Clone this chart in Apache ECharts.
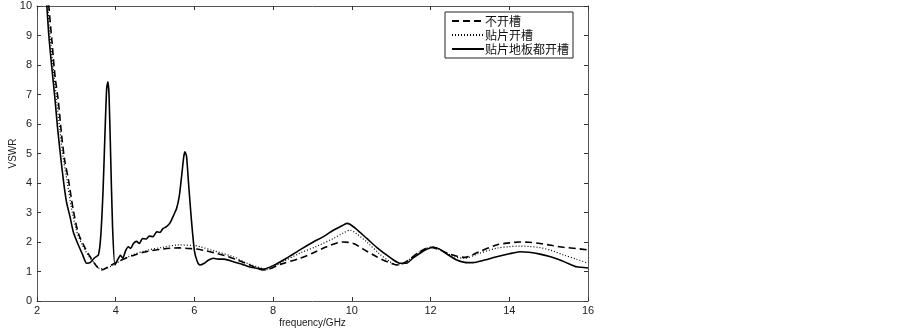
<!DOCTYPE html>
<html>
<head>
<meta charset="utf-8">
<script src="https://cdn.jsdelivr.net/npm/echarts@6/dist/echarts.min.js"></script>
<style>html,body{margin:0;padding:0;background:#fff}#c{width:903px;height:330px}</style>
</head>
<body>
<div id="c"></div>
<script>
var seriesNames = ['不开槽', '贴片开槽', '贴片地板都开槽'];
var xTicks = [2, 4, 6, 8, 10, 12, 14, 16];
var yTicks = [0, 1, 2, 3, 4, 5, 6, 7, 8, 9, 10];

var freqDash = [2.25,2.3,2.38,2.46,2.54,2.62,2.7,2.8,2.92,3.05,3.2,3.35,3.5,3.64,3.8,4.0,4.25,4.5,4.8,5.12,5.4,5.63,5.85,6.06,6.3,6.6,6.87,7.1,7.41,7.6,7.75,8.2,8.68,9.0,9.36,9.78,10.04,10.3,10.63,10.9,11.18,11.4,11.7,11.99,12.2,12.5,12.87,13.2,13.68,14.0,14.27,14.5,14.78,15.1,15.38,15.7,16.0];
var vswrDash = [10.8,10.0,8.8,7.6,6.8,5.7,4.8,4.1,3.1,2.3,1.85,1.5,1.2,1.05,1.15,1.3,1.45,1.57,1.68,1.75,1.79,1.8,1.78,1.76,1.7,1.6,1.5,1.38,1.22,1.1,1.05,1.25,1.45,1.62,1.84,2.0,1.95,1.75,1.5,1.33,1.22,1.35,1.65,1.82,1.75,1.58,1.48,1.65,1.9,1.97,2.0,1.99,1.95,1.88,1.82,1.78,1.73];

var freqDot = [2.22,2.27,2.33,2.42,2.5,2.58,2.66,2.76,2.87,3.0,3.15,3.3,3.45,3.6,3.75,3.9,4.1,4.4,4.8,5.2,5.6,6.0,6.14,6.5,6.99,7.3,7.66,7.83,8.2,8.68,9.1,9.53,9.8,9.95,10.1,10.38,10.7,10.95,11.14,11.4,11.7,12.07,12.3,12.6,12.87,13.2,13.68,14.0,14.27,14.5,14.78,15.1,15.38,15.7,16.0];
var vswrDot = [10.8,10.0,9.0,7.8,6.8,5.8,4.9,4.1,3.2,2.4,1.9,1.55,1.3,1.1,1.1,1.2,1.35,1.55,1.72,1.82,1.9,1.88,1.84,1.7,1.5,1.3,1.13,1.06,1.3,1.62,1.85,2.12,2.32,2.4,2.3,2.0,1.6,1.35,1.22,1.35,1.65,1.84,1.7,1.5,1.45,1.6,1.79,1.84,1.86,1.85,1.81,1.7,1.56,1.42,1.28];

var freqSolid = [2.2,2.25,2.3,2.37,2.46,2.52,2.6,2.67,2.75,2.84,2.92,3.05,3.15,3.26,3.35,3.45,3.56,3.62,3.68,3.73,3.77,3.8,3.83,3.87,3.92,3.98,4.05,4.12,4.18,4.25,4.32,4.38,4.45,4.53,4.6,4.68,4.78,4.85,4.95,5.04,5.12,5.2,5.29,5.38,5.47,5.55,5.62,5.68,5.73,5.76,5.8,5.85,5.92,6.0,6.07,6.14,6.25,6.35,6.48,6.6,6.75,6.99,7.2,7.41,7.58,7.75,8.0,8.34,8.7,9.02,9.3,9.53,9.75,9.87,9.95,10.1,10.38,10.63,10.88,11.05,11.22,11.39,11.55,11.73,11.9,12.07,12.24,12.45,12.65,12.87,13.08,13.35,13.68,14.0,14.27,14.5,14.78,15.05,15.29,15.5,15.71,16.0];
var vswrSolid = [10.9,10.0,9.0,8.0,6.8,5.9,4.9,4.1,3.35,2.85,2.35,1.9,1.6,1.28,1.3,1.45,1.56,2.2,3.8,5.8,7.2,7.43,7.0,5.0,2.5,1.22,1.4,1.55,1.45,1.7,1.84,1.78,1.95,2.02,1.95,2.12,2.1,2.2,2.18,2.35,2.32,2.45,2.52,2.65,2.9,3.15,3.6,4.3,4.9,5.06,4.9,4.0,2.8,1.7,1.35,1.22,1.28,1.38,1.45,1.42,1.42,1.33,1.25,1.15,1.11,1.08,1.2,1.45,1.75,2.0,2.2,2.4,2.55,2.63,2.6,2.45,2.12,1.82,1.56,1.4,1.28,1.28,1.45,1.62,1.75,1.82,1.75,1.56,1.4,1.31,1.3,1.38,1.5,1.6,1.67,1.65,1.59,1.5,1.39,1.27,1.16,1.12];

function pairs(xs, ys) { return xs.map(function (x, i) { return [x, ys[i]]; }); }

var chart = echarts.init(document.getElementById('c'), null, {renderer: 'canvas'});
var axisCol = '#555';
var labelStyle = {color: '#222', fontSize: 11, fontFamily: 'Liberation Sans'};
chart.setOption({
  animation: false,
  backgroundColor: '#fff',
  grid: {left: 37, right: 315, top: 6, bottom: 29, containLabel: false, outerBoundsMode: 'none'},
  legend: {
    orient: 'vertical', left: 445, top: 12,
    data: seriesNames,
    backgroundColor: '#fff', borderColor: '#222', borderWidth: 1,
    padding: [3, 4, 3, 6], itemGap: 2, itemWidth: 32, itemHeight: 12,
    itemStyle: {opacity: 0},
    textStyle: {fontFamily: 'Noto Sans CJK SC', fontSize: 12, color: '#111', padding: [0, 0, 0, -4]}
  },
  xAxis: [{
    type: 'value', min: 2, max: 16, interval: 2,
    name: 'frequency/GHz', nameLocation: 'middle', nameGap: 17, nameMoveOverlap: false,
    nameTextStyle: {color: '#222', fontSize: 10, fontFamily: 'Liberation Sans', verticalAlign: 'top'},
    axisLine: {show: true, onZero: false, lineStyle: {color: axisCol, width: 1}},
    axisTick: {show: true, inside: true, length: 4, lineStyle: {color: '#333'}},
    axisLabel: Object.assign({margin: 4, formatter: function (v) { return xTicks.indexOf(v) >= 0 ? String(v) : ''; }}, labelStyle),
    splitLine: {show: false}
  }, {
    type: 'value', min: 2, max: 16, interval: 2, position: 'top',
    axisLine: {show: true, onZero: false, lineStyle: {color: axisCol, width: 1}},
    axisTick: {show: true, inside: true, length: 4, lineStyle: {color: '#333'}},
    axisLabel: {show: false}, splitLine: {show: false}
  }],
  yAxis: [{
    type: 'value', min: 0, max: 10, interval: 1,
    name: 'VSWR', nameLocation: 'middle', nameGap: 24, nameRotate: 90, nameMoveOverlap: false,
    nameTextStyle: {color: '#222', fontSize: 10, fontFamily: 'Liberation Sans', verticalAlign: 'middle'},
    axisLine: {show: true, onZero: false, lineStyle: {color: axisCol, width: 1}},
    axisTick: {show: true, inside: true, length: 4, lineStyle: {color: '#333'}},
    axisLabel: Object.assign({margin: 5, formatter: function (v) { return yTicks.indexOf(v) >= 0 ? String(v) : ''; }}, labelStyle),
    splitLine: {show: false}
  }, {
    type: 'value', min: 0, max: 10, interval: 1, position: 'right',
    axisLine: {show: true, onZero: false, lineStyle: {color: axisCol, width: 1}},
    axisTick: {show: true, inside: true, length: 4, lineStyle: {color: '#333'}},
    axisLabel: {show: false}, splitLine: {show: false}
  }],
  series: [{
    name: seriesNames[0], type: 'line', data: pairs(freqDash, vswrDash),
    showSymbol: false, symbol: 'none', smooth: 0.3, clip: true,
    lineStyle: {color: '#000', width: 1.6, type: [7, 4]}, itemStyle: {color: '#000'}
  }, {
    name: seriesNames[1], type: 'line', data: pairs(freqDot, vswrDot),
    showSymbol: false, symbol: 'none', smooth: 0.3, clip: true,
    lineStyle: {color: '#000', width: 1.2, type: [1, 2]}, itemStyle: {color: '#000'}
  }, {
    name: seriesNames[2], type: 'line', data: pairs(freqSolid, vswrSolid),
    showSymbol: false, symbol: 'none', smooth: 0.2, clip: true,
    lineStyle: {color: '#000', width: 1.6, type: 'solid'}, itemStyle: {color: '#000'}
  }]
});
</script>
</body>
</html>
